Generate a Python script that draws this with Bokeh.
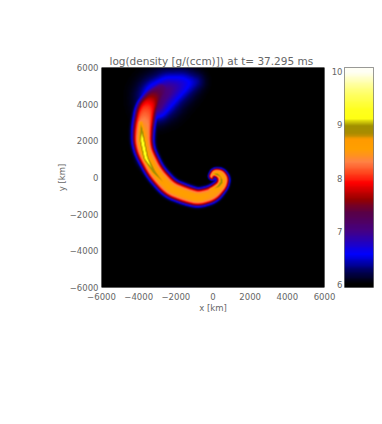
import numpy as np
from bokeh.plotting import figure
from bokeh.layouts import row
from bokeh.models import FixedTicker, LinearColorMapper
from bokeh.embed import file_html
from bokeh.resources import INLINE

title_text = "log(density [g/(ccm)]) at t=  37.295 ms"
x_label = "x [km]"
y_label = "y [km]"
axis_ticks = [-6000, -4000, -2000, 0, 2000, 4000, 6000]
bar_ticks = [6, 7, 8, 9, 10]

# Colour table: level, r, g, b
lev = [6.0, 6.28, 6.55, 6.75, 7.0, 7.35, 7.6, 7.9, 8.1, 8.3, 8.55, 8.72, 8.85, 9.0, 9.12, 9.3, 9.7, 10.0]
red = [0, 0, 0, 30, 70, 90, 150, 255, 255, 255, 255, 255, 170, 160, 255, 255, 255, 255]
grn = [0, 0, 0, 0, 0, 0, 0, 0, 70, 130, 160, 155, 140, 145, 255, 255, 255, 255]
blu = [0, 110, 255, 200, 130, 70, 0, 0, 30, 70, 0, 0, 0, 0, 20, 30, 130, 245]

# Main crescent envelope
body_x = [-2750, -3250, -3600, -3770, -3800, -3680, -3130, -2330, -1450, -800, -50, 480, 560, 400, 120, -40]
body_y = [4850, 4350, 3750, 2750, 2000, 1400, 300, -600, -950, -1130, -930, -430, -80, 190, 260, 60]
body_w = [430, 540, 590, 570, 550, 520, 490, 500, 490, 470, 450, 340, 340, 310, 260, 200]
body_c = [7.1, 7.5, 8.05, 8.4, 8.55, 8.55, 8.55, 8.55, 8.55, 8.55, 8.5, 8.55, 8.55, 8.55, 8.55, 8.55]

# Faint upper tail
tail_x = [-1000, -1700, -2400, -2900, -3100]
tail_y = [5250, 5100, 4800, 4400, 4000]
tail_w = [520, 760, 900, 950, 800]
tail_c = [6.4, 6.7, 7.0, 7.15, 7.2]

# Bright ridge
ridge_x = [-3900, -3820, -3620, -3180, -2650]
ridge_y = [3000, 2000, 1050, 300, -300]
ridge_w = [260, 320, 320, 280, 200]
ridge_c = [8.75, 9.3, 9.25, 8.98, 8.78]

# Bright part of the curl
curl_x = [-150, 280, 470, 430, 230, 90]
curl_y = [-660, -500, -250, 20, 170, 170]
curl_w = [130, 190, 190, 130, 120, 110]
curl_c = [8.75, 8.98, 9.15, 8.95, 9.15, 9.2]

# Low density eye of the curl
eye_x = [70]
eye_y = [0]
eye_r = [85]


def layer(xs, ys, ws, cs, gx, gy, p=4.5):
    t = np.linspace(0, len(xs) - 1, 300)
    k = np.arange(len(xs))
    kernel = np.ones(15) / 15
    def smooth(v):
        a = np.interp(t, k, v)
        return np.convolve(np.pad(a, 7, mode="edge"), kernel, mode="valid")
    sx, sy, sw, sc = smooth(xs), smooth(ys), smooth(ws), smooth(cs)
    out = np.full(gx.shape, 6.0)
    for a, b, w, c in zip(sx, sy, sw, sc):
        d = np.hypot(gx - a, gy - b)
        out = np.maximum(out, 6 + (c - 6) * np.exp(-(d / w) ** p))
    return out


def blur(f):
    out = f.copy()
    for axis in (0, 1):
        out = (np.roll(out, 1, axis) + 2 * out + np.roll(out, -1, axis)) / 4
    return out


gxs = np.linspace(-6000, 6000, 223)
gys = np.linspace(-6000, 6000, 220)
GX, GY = np.meshgrid(gxs, gys)
field = layer(body_x, body_y, body_w, body_c, GX, GY)
field = np.maximum(field, layer(tail_x, tail_y, tail_w, tail_c, GX, GY, 2.0))
field = np.maximum(field, layer(ridge_x, ridge_y, ridge_w, ridge_c, GX, GY, 2.0))
field = np.maximum(field, layer(curl_x, curl_y, curl_w, curl_c, GX, GY, 2.0))
for a, b, r in zip(eye_x, eye_y, eye_r):
    field = 6 + (field - 6) * (1 - 0.75 * np.exp(-(np.hypot(GX - a, GY - b) / r) ** 2))
field = blur(field)

BAR_LOW, BAR_HIGH = 5.94, 10.08
levels = np.linspace(6, 10, 256)
palette = [
    "#%02x%02x%02x" % (int(r), int(g), int(b))
    for r, g, b in zip(np.interp(levels, lev, red), np.interp(levels, lev, grn), np.interp(levels, lev, blu))
]
mapper = LinearColorMapper(palette=palette, low=6, high=10)

TXT = "#666666"
FONT = "DejaVu Sans"


def style(ax):
    ax.axis_line_color = None
    ax.major_tick_line_color = None
    ax.minor_tick_line_color = None
    ax.major_tick_out = 0
    ax.major_tick_in = 0
    ax.minor_tick_out = 0
    ax.minor_tick_in = 0
    ax.major_label_text_color = TXT
    ax.major_label_text_font = FONT
    ax.major_label_text_font_size = "8.5px"
    ax.major_label_standoff = 3
    ax.axis_label_text_color = TXT
    ax.axis_label_text_font = FONT
    ax.axis_label_text_font_size = "8.5px"
    ax.axis_label_text_font_style = "normal"
    ax.axis_label_standoff = 0


p = figure(width=338, height=416, x_range=(-6000, 6000), y_range=(-6000, 6000),
           toolbar_location=None, output_backend="svg", x_axis_label=x_label, y_axis_label=y_label,
           min_border_left=101, min_border_right=14, min_border_top=67, min_border_bottom=129)
p.image(image=[field], x=-6000, y=-6000, dw=12000, dh=12000, color_mapper=mapper)
p.grid.visible = False
p.outline_line_color = None
p.background_fill_color = "#000000"
p.title.text = title_text
p.title.text_color = TXT
p.title.text_font = FONT
p.title.text_font_size = "10.5px"
p.title.text_font_style = "normal"
p.title.align = "center"
p.title.standoff = 1
for ax in (p.xaxis[0], p.yaxis[0]):
    style(ax)
    ax.ticker = FixedTicker(ticks=axis_ticks)
p.xaxis[0].major_label_standoff = 5

bar = figure(width=50, height=416, x_range=(0, 1), y_range=(BAR_LOW, BAR_HIGH),
             toolbar_location=None, output_backend="svg", border_fill_color=None,
             margin=(0, 0, 0, -14),
             min_border_left=20, min_border_right=1, min_border_top=67, min_border_bottom=129)
bar_levels = np.linspace(BAR_LOW, BAR_HIGH, 256)
bar.image(image=[bar_levels.reshape(-1, 1)], x=0, y=BAR_LOW, dw=1, dh=BAR_HIGH - BAR_LOW, color_mapper=mapper)
bar.grid.visible = False
bar.xaxis.visible = False
bar.outline_line_color = "#777777"
style(bar.yaxis[0])
bar.yaxis[0].ticker = FixedTicker(ticks=bar_ticks, minor_ticks=[6.25, 6.5, 6.75, 7.25, 7.5, 7.75, 8.25, 8.5, 8.75, 9.25, 9.5, 9.75])
bar.yaxis[0].major_label_standoff = 2

page = row(p, bar, spacing=0)
open("out.html", "w").write(file_html(page, INLINE))
